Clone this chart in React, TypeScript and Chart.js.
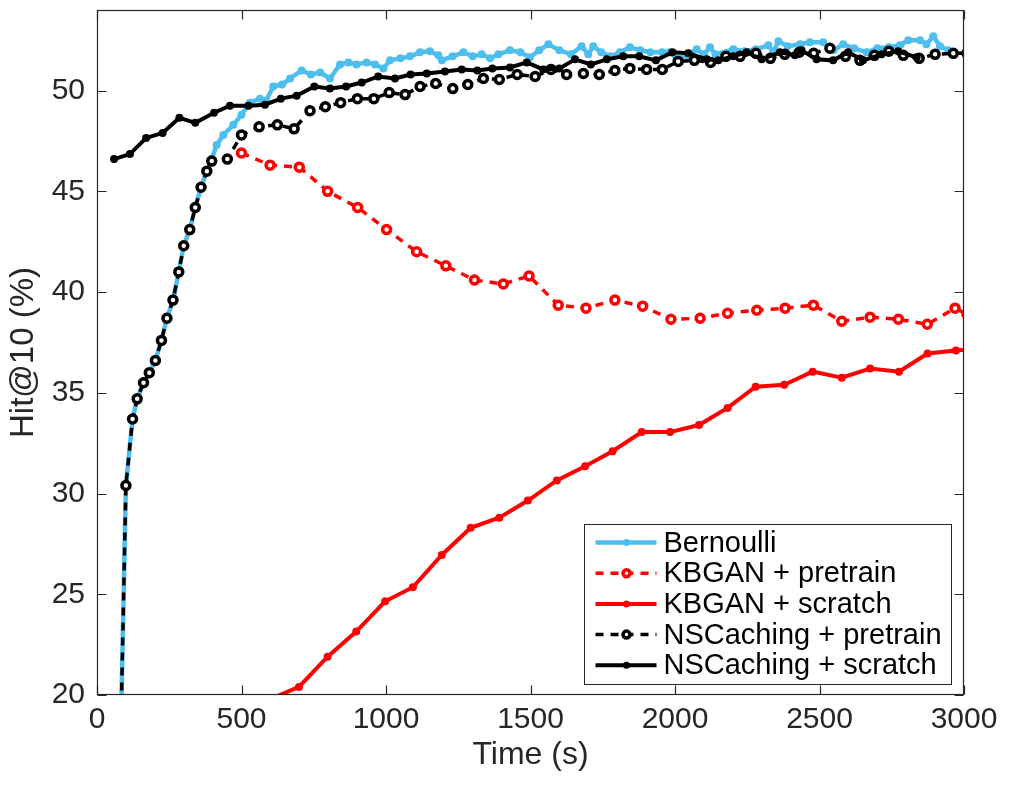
import { useEffect, useRef } from 'react'
import { Chart, registerables } from 'chart.js'

Chart.register(...registerables)

const FONT = '"Liberation Sans", Arial, Helvetica, sans-serif'
const AXIS = '#262626'

const xTicks = [0, 500, 1000, 1500, 2000, 2500, 3000]
const yTicks = [20, 25, 30, 35, 40, 45, 50]

const seriesNames = [
  'Bernoulli',
  'KBGAN + pretrain',
  'KBGAN + scratch',
  'NSCaching + pretrain',
  'NSCaching + scratch',
]

// Bernoulli (dense, light blue)
const bernoulliTime = [
  80, 100, 123, 139, 161, 181, 202, 223, 242, 263, 283, 300, 321, 340, 360, 380, 397,
  414, 437, 472, 500, 529, 564, 585, 610, 640, 668, 708, 740, 772, 806, 841, 870, 898,
  933, 962, 991, 1014, 1050, 1083, 1118, 1152, 1181, 1193, 1230, 1268, 1300, 1331,
  1360, 1389, 1429, 1465, 1498, 1530, 1562, 1600, 1640, 1677, 1700, 1717, 1745, 1775,
  1810, 1844, 1880, 1915, 1955, 1980, 2006, 2040, 2075, 2100, 2121, 2140, 2202, 2240,
  2280, 2323, 2340, 2358, 2390, 2433, 2467, 2513, 2548, 2582, 2620, 2664, 2700, 2740,
  2779, 2807, 2848, 2870, 2894, 2917, 2946,
]
const bernoulliHit = [
  16.5, 30.4, 33.7, 34.7, 35.5, 36.0, 36.6, 37.6, 38.7, 39.6, 41.0, 42.3, 43.1, 44.2, 45.2, 46.0, 46.6,
  47.3, 47.8, 48.3, 48.8, 49.4, 49.6, 49.5, 50.2, 50.3, 50.6, 51.0, 50.8, 50.9, 50.6, 51.3, 51.4, 51.3,
  51.4, 51.3, 51.1, 51.5, 51.6, 51.7, 51.9, 51.95, 51.75, 51.5, 51.7, 51.9, 51.7, 51.8,
  51.6, 51.8, 52.0, 51.9, 51.65, 52.0, 52.3, 52.0, 51.8, 52.2, 51.8, 52.2, 51.9, 51.7,
  51.9, 52.15, 52.0, 51.9, 51.9, 51.9, 51.6, 51.75, 52.05, 51.8, 52.15, 51.8, 52.05, 51.95,
  52.05, 52.25, 51.9, 52.45, 52.2, 52.3, 52.4, 52.4, 52.0, 52.3, 52.1, 51.9, 52.1, 52.15,
  52.25, 52.5, 52.5, 52.3, 52.7, 52.2, 52.0,
]

// KBGAN + pretrain (red dashed, open circles)
const kbganPreTime = [
  500, 599, 700, 798, 902, 1002, 1106, 1207, 1306, 1406, 1495, 1596, 1692, 1792,
  1888, 1986, 2087, 2182, 2283, 2381, 2479, 2577, 2675, 2773, 2873, 2969, 3010,
]
const kbganPreHit = [
  46.9, 46.3, 46.2, 45.0, 44.2, 43.1, 42.0, 41.3, 40.6, 40.4, 40.8, 39.35, 39.2, 39.6,
  39.3, 38.65, 38.7, 38.95, 39.1, 39.2, 39.35, 38.55, 38.75, 38.65, 38.4, 39.2, 38.9,
]

// KBGAN + scratch (red solid)
const kbganScrTime = [
  600, 699, 798, 897, 997, 1093, 1193, 1293, 1392, 1491, 1591, 1689, 1784, 1885,
  1983, 2083, 2182, 2279, 2378, 2476, 2577, 2675, 2775, 2874, 2972, 3010,
]
const kbganScrHit = [
  19.8, 20.4, 21.9, 23.15, 24.65, 25.35, 26.95, 28.3, 28.8, 29.65, 30.65, 31.35, 32.1, 33.05,
  33.05, 33.4, 34.25, 35.3, 35.4, 36.05, 35.75, 36.2, 36.05, 36.95, 37.1, 37.15,
]

// NSCaching + pretrain (black dashed, open circles)
const nscPreTime = [
  80, 100, 123, 139, 161, 181, 202, 223, 242, 263, 283, 300, 321, 340, 360, 380, 397,
  451, 500, 561, 624, 682, 737, 790, 843, 901, 958, 1011, 1066, 1118, 1172, 1231, 1283,
  1337, 1392, 1454, 1516, 1571, 1625, 1683, 1738, 1792, 1844, 1902, 1956, 2011, 2067,
  2123, 2176, 2225, 2280, 2330, 2380, 2430, 2480, 2536, 2590, 2640, 2690, 2740, 2790,
  2845, 2900, 2963, 3010,
]
const nscPreHit = [
  16.5, 30.4, 33.7, 34.7, 35.5, 36.0, 36.6, 37.6, 38.7, 39.6, 41.0, 42.3, 43.1, 44.2, 45.2, 46.0, 46.5,
  46.6, 47.8, 48.2, 48.3, 48.1, 49.0, 49.2, 49.4, 49.6, 49.6, 49.9, 49.8, 50.2, 50.35, 50.1, 50.3,
  50.6, 50.55, 50.8, 50.7, 51.05, 50.8, 50.85, 50.8, 51.0, 51.1, 51.05, 51.05, 51.45, 51.5,
  51.4, 51.7, 51.7, 51.85, 51.6, 51.8, 51.9, 51.85, 52.1, 51.7, 51.5, 51.75, 51.95, 51.75,
  51.6, 51.8, 51.85, 51.85,
]

// NSCaching + scratch (black solid)
const nscScrTime = [
  59, 114, 170, 227, 285, 340, 405, 460, 524, 581, 636, 691, 752, 806, 862, 916, 973,
  1031, 1085, 1141, 1204, 1262, 1316, 1368, 1429, 1487, 1544, 1600, 1654, 1709, 1764,
  1821, 1876, 1934, 1991, 2046, 2110, 2150, 2201, 2248, 2300, 2363, 2415, 2438, 2490,
  2547, 2599, 2651, 2715, 2772, 2836,
]
const nscScrHit = [
  46.6, 46.85, 47.65, 47.9, 48.65, 48.4, 48.9, 49.25, 49.25, 49.3, 49.6, 49.75, 50.2, 50.1, 50.2, 50.4, 50.7,
  50.6, 50.8, 50.85, 50.95, 51.05, 51.0, 51.1, 51.15, 51.4, 51.05, 51.1, 51.55, 51.3, 51.55,
  51.7, 51.7, 51.5, 51.9, 51.85, 51.55, 51.5, 51.7, 51.9, 51.55, 51.9, 51.75, 52.0, 51.55,
  51.5, 51.9, 51.5, 51.8, 51.95, 51.65,
]

const toPoints = (t: number[], v: number[]) => t.map((x, i) => ({ x, y: v[i] }))

// axes box + inward ticks, MATLAB style
const framePlugin = {
  id: 'frame',
  afterDatasetsDraw(chart: any) {
    const { ctx, chartArea: a, scales } = chart
    const L = Math.round(a.left) + 0.5
    const R = Math.round(a.right) - 0.5
    const T = Math.round(a.top) + 0.5
    const B = Math.round(a.bottom) - 0.5
    const len = 9
    ctx.save()
    ctx.strokeStyle = AXIS
    ctx.lineWidth = 1.2
    ctx.setLineDash([])
    ctx.strokeRect(L, T, R - L, B - T)
    ctx.beginPath()
    for (const v of xTicks) {
      const px = Math.round(scales.x.getPixelForValue(v)) + 0.5
      ctx.moveTo(px, B); ctx.lineTo(px, B - len)
      ctx.moveTo(px, T); ctx.lineTo(px, T + len)
    }
    for (const v of yTicks) {
      const py = Math.round(scales.y.getPixelForValue(v)) + 0.5
      ctx.moveTo(L, py); ctx.lineTo(L + len, py)
      ctx.moveTo(R, py); ctx.lineTo(R - len, py)
    }
    ctx.stroke()
    ctx.restore()
  },
}

// boxed legend in the lower right corner of the plot
const legendPlugin = {
  id: 'boxLegend',
  afterDraw(chart: any) {
    const { ctx, chartArea } = chart
    const sets = chart.data.datasets as any[]
    ctx.save()
    ctx.font = `29px ${FONT}`
    const textW = Math.max(...sets.map((d) => ctx.measureText(d.label).width))
    const rowH = 30.7
    const w = 79 + textW + 10
    const h = 18 + rowH * (sets.length - 1) + 20
    const right = Math.round(chartArea.right - 13) + 0.5
    const bottom = Math.round(chartArea.bottom - 11) + 0.5
    const left = Math.round(right - w) + 0.5
    const top = Math.round(bottom - h) + 0.5
    ctx.fillStyle = '#fff'
    ctx.fillRect(left, top, right - left, bottom - top)
    ctx.strokeStyle = AXIS
    ctx.lineWidth = 1
    ctx.strokeRect(left, top, right - left, bottom - top)
    sets.forEach((d, i) => {
      const y = top + 18 + i * rowH
      ctx.beginPath()
      ctx.setLineDash(d.borderDash || [])
      ctx.strokeStyle = d.borderColor
      ctx.lineWidth = d.borderWidth
      ctx.moveTo(left + 11, y)
      ctx.lineTo(left + 72, y)
      ctx.stroke()
      ctx.setLineDash([])
      ctx.beginPath()
      ctx.arc(left + 42, y, Math.min(d.pointRadius, 3.5), 0, Math.PI * 2)
      ctx.fillStyle = d.pointBackgroundColor
      ctx.fill()
      if (d.pointBorderWidth > 0) {
        ctx.lineWidth = d.pointBorderWidth
        ctx.strokeStyle = d.pointBorderColor
        ctx.stroke()
      }
      ctx.fillStyle = '#000'
      ctx.textAlign = 'left'
      ctx.textBaseline = 'middle'
      ctx.fillText(d.label, left + 79, y + 1)
    })
    ctx.restore()
  },
}

export default function App() {
  const ref = useRef<HTMLCanvasElement | null>(null)

  useEffect(() => {
    document.body.style.margin = '0'
    if (!ref.current) return
    const ctx = ref.current.getContext('2d')
    if (!ctx) return

    const blue = '#4DBEEE'
    const red = '#FF0000'
    const black = '#000000'
    const dash = [8, 7]

    const chart = new Chart(ctx, {
      type: 'line',
      data: {
        datasets: [
          {
            label: seriesNames[0],
            data: toPoints(bernoulliTime, bernoulliHit),
            borderColor: blue,
            borderWidth: 4.5,
            pointRadius: 4,
            pointBorderWidth: 0,
            pointBackgroundColor: blue,
            pointBorderColor: blue,
            order: 5,
          },
          {
            label: seriesNames[1],
            data: toPoints(kbganPreTime, kbganPreHit),
            borderColor: red,
            borderWidth: 3.5,
            borderDash: dash,
            pointRadius: 4,
            pointBorderWidth: 3.5,
            pointBackgroundColor: '#fff',
            pointBorderColor: red,
            order: 4,
          },
          {
            label: seriesNames[2],
            data: toPoints(kbganScrTime, kbganScrHit),
            borderColor: red,
            borderWidth: 4,
            pointRadius: 4,
            pointBorderWidth: 0,
            pointBackgroundColor: red,
            pointBorderColor: red,
            order: 3,
          },
          {
            label: seriesNames[3],
            data: toPoints(nscPreTime, nscPreHit),
            borderColor: black,
            borderWidth: 3.5,
            borderDash: dash,
            pointRadius: 4,
            pointBorderWidth: 3.5,
            pointBackgroundColor: '#fff',
            pointBorderColor: black,
            order: 2,
          },
          {
            label: seriesNames[4],
            data: toPoints(nscScrTime, nscScrHit),
            borderColor: black,
            borderWidth: 4,
            pointRadius: 4,
            pointBorderWidth: 0,
            pointBackgroundColor: black,
            pointBorderColor: black,
            order: 1,
          },
        ] as any,
      },
      options: {
        animation: false,
        responsive: false,
        devicePixelRatio: 1,
        layout: { autoPadding: false, padding: { left: 0, top: 10, right: 45, bottom: 0 } },
        elements: { line: { tension: 0 } },
        datasets: { line: { clip: 0 } } as any,
        plugins: {
          legend: { display: false },
          tooltip: { enabled: false },
        },
        scales: {
          x: {
            type: 'linear',
            min: 0,
            max: 3000,
            afterFit: (s: any) => {
              s.height = 91
              s.paddingLeft = 0
              s.paddingRight = 0
            },
            afterBuildTicks: (s: any) => { s.ticks = xTicks.map((value) => ({ value })) },
            grid: { display: false, drawTicks: false },
            border: { display: false },
            ticks: {
              color: AXIS,
              font: { family: FONT, size: 30 },
              padding: 7,
              maxRotation: 0,
              autoSkip: false,
              callback: (v: any) => String(v),
            },
            title: {
              display: true,
              text: 'Time (s)',
              color: AXIS,
              font: { family: FONT, size: 32 },
              padding: { top: 0, bottom: 12 },
            },
          },
          y: {
            type: 'linear',
            min: 20,
            max: 54,
            afterFit: (s: any) => {
              s.width = 97
              s.paddingTop = 0
              s.paddingBottom = 0
            },
            afterBuildTicks: (s: any) => { s.ticks = yTicks.map((value) => ({ value })) },
            grid: { display: false, drawTicks: false },
            border: { display: false },
            ticks: {
              color: AXIS,
              font: { family: FONT, size: 30 },
              padding: 12,
              autoSkip: false,
              callback: (v: any) => String(v),
            },
            title: {
              display: true,
              text: 'Hit@10 (%)',
              color: AXIS,
              font: { family: FONT, size: 33 },
              padding: { top: 4, bottom: 0 },
            },
          },
        },
      },
      plugins: [framePlugin, legendPlugin],
    })
    return () => chart.destroy()
  }, [])

  return (
    <div style={{ width: 1009, height: 786 }}>
      <canvas ref={ref} width={1009} height={786} />
    </div>
  )
}
